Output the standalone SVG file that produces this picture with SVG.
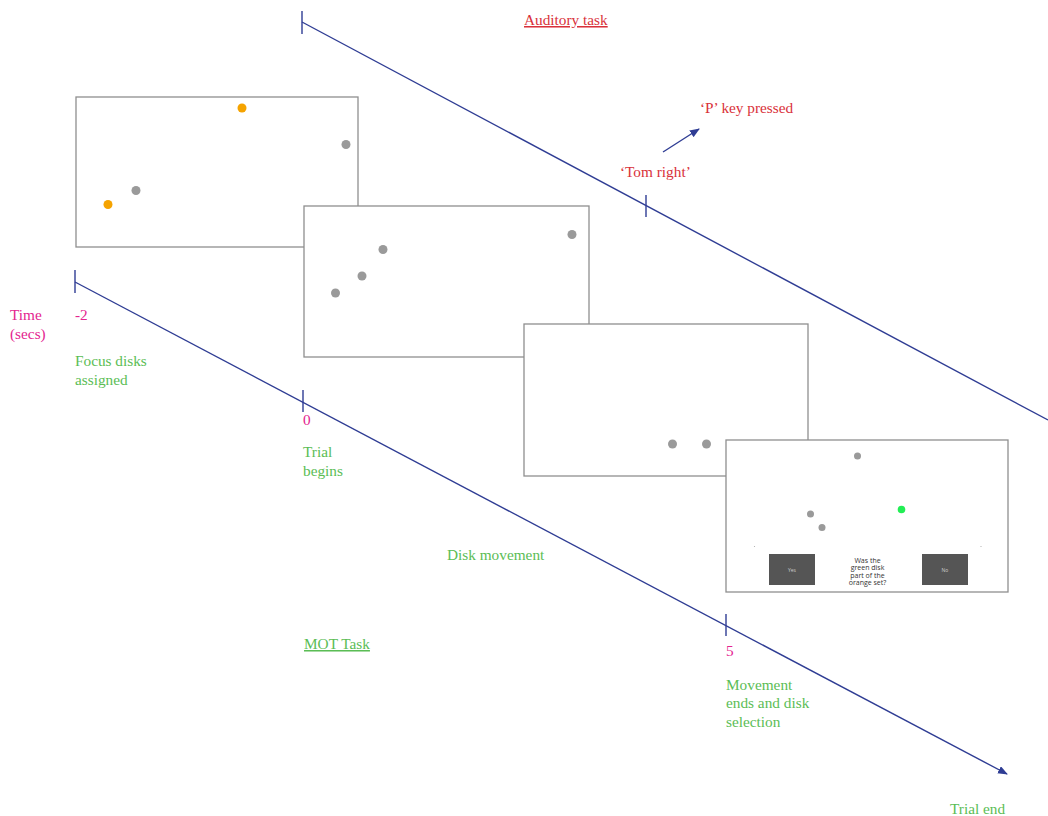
<svg xmlns="http://www.w3.org/2000/svg" width="1048" height="816" viewBox="0 0 1048 816">
<defs>
<style>
.t{font-family:"Liberation Serif","DejaVu Serif",serif;font-size:15.3px}
.red{fill:#d9313a}
.mag{fill:#e4248f}
.grn{fill:#5bbd55}
.ln{stroke:#2f3d94;stroke-width:1.4;fill:none}
.tk{stroke:#2f3d94;stroke-width:1.4}
.scr{fill:#fff;stroke:#8f8f8f;stroke-width:1.3}
.g{fill:#9a9a9a}
.o{fill:#f5a300}
.sm{font-family:"Open Sans","Liberation Sans",sans-serif;font-size:7px;fill:#333;text-anchor:middle}
.bt{font-family:"Open Sans","Liberation Sans",sans-serif;font-size:5px;fill:#ccc;text-anchor:middle}
</style>
<marker id="ah" markerWidth="10" markerHeight="8" refX="9" refY="4" orient="auto" markerUnits="userSpaceOnUse">
<path d="M0,0 L10,4 L0,8 Z" fill="#2f3d94"/>
</marker>
</defs>
<rect width="1048" height="816" fill="#fff"/>
<g id="connectors">
<line class="ln" x1="75" y1="282" x2="1007" y2="774" marker-end="url(#ah)"/>
<line class="ln" x1="302" y1="22" x2="1048" y2="420"/>
<line class="ln" x1="663" y1="152" x2="699" y2="129" marker-end="url(#ah)"/>
<line class="tk" x1="75" y1="270" x2="75" y2="293"/>
<line class="tk" x1="303" y1="390" x2="303" y2="412"/>
<line class="tk" x1="726" y1="614" x2="726" y2="636"/>
<line class="tk" x1="302" y1="11" x2="302" y2="34"/>
<line class="tk" x1="646" y1="195" x2="646" y2="217"/>
</g>
<g id="screen1">
<rect class="scr" x="76" y="97" width="282" height="150"/>
<circle class="o" cx="242" cy="108" r="4.5"/>
<circle class="o" cx="108" cy="204.5" r="4.5"/>
<circle class="g" cx="346" cy="144.5" r="4.5"/>
<circle class="g" cx="136" cy="190.5" r="4.5"/>
</g>
<g id="screen2">
<rect class="scr" x="304" y="206" width="285" height="151"/>
<circle class="g" cx="572" cy="234.5" r="4.5"/>
<circle class="g" cx="383" cy="249.5" r="4.5"/>
<circle class="g" cx="362" cy="276" r="4.5"/>
<circle class="g" cx="335.5" cy="293" r="4.5"/>
</g>
<g id="screen3">
<rect class="scr" x="524" y="324" width="284" height="152"/>
<circle class="g" cx="672.5" cy="444" r="4.5"/>
<circle class="g" cx="706.5" cy="444" r="4.5"/>
</g>
<g id="screen4">
<rect class="scr" x="726" y="440" width="282" height="152"/>
<circle class="g" cx="857.5" cy="456" r="3.5"/>
<circle class="g" cx="810.5" cy="514" r="3.5"/>
<circle class="g" cx="822" cy="527.5" r="3.5"/>
<circle cx="901.5" cy="509.5" r="3.8" fill="#22ee55"/>
<circle cx="754.5" cy="546.5" r="0.6" fill="#aaa"/>
<circle cx="981" cy="546.5" r="0.6" fill="#aaa"/>
<rect x="769" y="554" width="46" height="31" fill="#555"/>
<rect x="922" y="554" width="46" height="31" fill="#555"/>
<text class="bt" x="792" y="571.5">Yes</text>
<text class="bt" x="945" y="571.5">No</text>
<text class="sm" x="867.5" y="562.5">Was the</text>
<text class="sm" x="867.5" y="570">green disk</text>
<text class="sm" x="867.5" y="577.5">part of the</text>
<text class="sm" x="867.5" y="585">orange set?</text>
</g>
<g id="labels">
<text class="t red" x="524" y="25" text-decoration="underline">Auditory task</text>
<text class="t red" x="700" y="113">‘P’ key pressed</text>
<text class="t red" x="620" y="177">‘Tom right’</text>
<text class="t mag" x="10" y="320">Time</text>
<text class="t mag" x="10" y="339">(secs)</text>
<text class="t mag" x="75" y="320">-2</text>
<text class="t grn" x="75" y="366">Focus disks</text>
<text class="t grn" x="75" y="385">assigned</text>
<text class="t mag" x="303" y="425">0</text>
<text class="t grn" x="303" y="457">Trial</text>
<text class="t grn" x="303" y="476">begins</text>
<text class="t grn" x="447" y="560">Disk movement</text>
<text class="t grn" x="304" y="649" text-decoration="underline">MOT Task</text>
<text class="t mag" x="726" y="656">5</text>
<text class="t grn" x="726" y="690">Movement</text>
<text class="t grn" x="726" y="708">ends and disk</text>
<text class="t grn" x="726" y="727">selection</text>
<text class="t grn" x="950" y="814">Trial end</text>
</g>
</svg>
